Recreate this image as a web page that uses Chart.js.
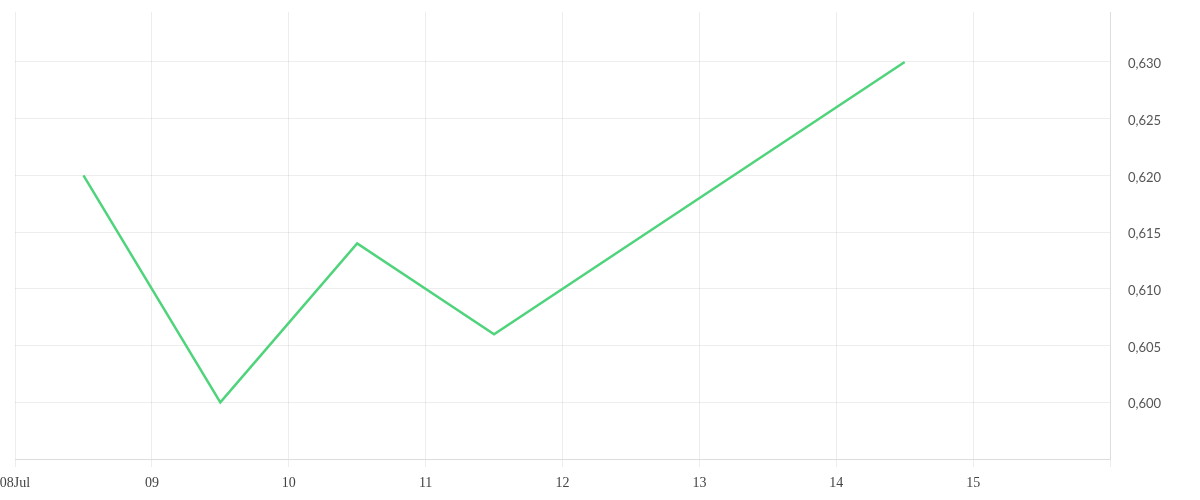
<!DOCTYPE html>
<html>
<head>
<meta charset="utf-8">
<script src="https://cdn.jsdelivr.net/npm/chart.js@4"></script>
<style>
  html, body { margin: 0; padding: 0; background: #fff; }
  #wrap { width: 1200px; height: 500px; }
</style>
</head>
<body>
<div id="wrap"><canvas id="rate"></canvas></div>
<script>
// day of July (noon of each day) and rate
const days = [8.5, 9.5, 10.5, 11.5, 12.5, 13.5, 14.5];
const rates = [0.620, 0.600, 0.614, 0.606, 0.614, 0.622, 0.630];
const yTicks = [0.595, 0.600, 0.605, 0.610, 0.615, 0.620, 0.625, 0.630];

function dayLabel(v) {
  if (v === 8) return '08Jul';
  if (v >= 16) return '';
  return String(v).padStart(2, '0');
}

function rateLabel(v) {
  if (v < 0.5975) return '';
  return v.toFixed(3).replace('.', ',');
}

const grid = 'rgba(0,0,0,0.07)';

new Chart(document.getElementById('rate'), {
  type: 'line',
  data: {
    datasets: [{
      data: days.map((d, i) => ({ x: d, y: rates[i] })),
      borderColor: '#4fd37b',
      borderWidth: 2.5,
      pointRadius: 0,
      tension: 0
    }]
  },
  options: {
    responsive: true,
    maintainAspectRatio: false,
    animation: false,
    layout: { padding: { left: 0, top: 12, right: 0, bottom: 0 } },
    plugins: { legend: { display: false }, tooltip: { enabled: false } },
    scales: {
      x: {
        type: 'linear',
        min: 8,
        max: 16,
        ticks: {
          stepSize: 1,
          maxRotation: 0,
          autoSkip: false,
          padding: 8,
          color: '#444',
          font: { family: 'Liberation Serif', size: 14 },
          callback: dayLabel
        },
        grid: { color: grid, tickLength: 8 },
        border: { color: grid },
        afterFit(scale) {
          scale.height = 41;
          scale.paddingLeft = 15;
          scale.paddingRight = 0;
        }
      },
      y: {
        position: 'right',
        min: 0.595,
        max: 0.6344,
        afterBuildTicks(scale) {
          scale.ticks = yTicks.map(v => ({ value: v }));
        },
        ticks: {
          padding: 18,
          labelOffset: 2,
          color: '#555',
          font: { family: 'Lato', size: 13 },
          callback: rateLabel
        },
        grid: { color: grid, drawTicks: false },
        border: { color: grid },
        afterFit(scale) {
          scale.width = 90;
          scale.paddingTop = 0;
          scale.paddingBottom = 0;
        }
      }
    }
  }
});
</script>
</body>
</html>
